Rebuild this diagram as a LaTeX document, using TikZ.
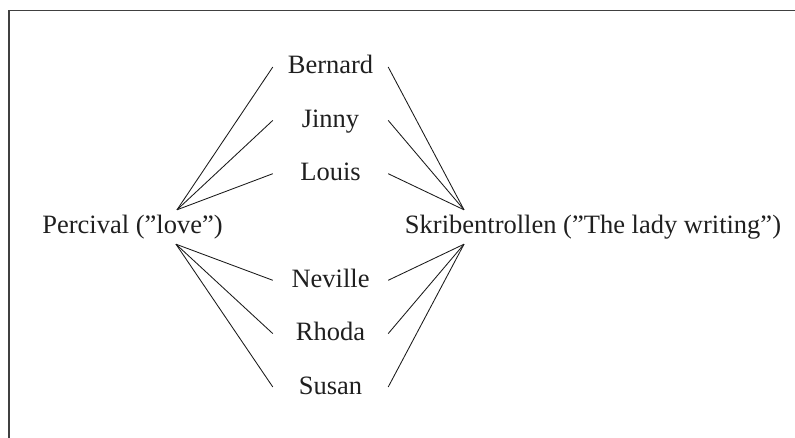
\documentclass[tikz,border=0pt]{standalone}
\usepackage{fontspec}
\setmainfont{Liberation Serif}
\begin{document}
\begin{tikzpicture}[x=1pt,y=-1pt,
  lbl/.style={font=\fontsize{26.5}{30}\selectfont, text=black!88, text height=18pt, text depth=4pt, inner ysep=6pt, inner xsep=0pt},
  person/.style={lbl, minimum width=115pt},
  link/.style={draw=black!90, line width=0.85pt}]
\useasboundingbox (0,0) rectangle (795,438);
\draw[black!75, line width=1.1pt] (9,438) -- (9,10.5) -- (795,10.5);

\node[lbl] (perc) at (132.5,227) {Percival (”love”)};
\node[lbl] (skrib) at (593,227) {Skribentrollen (”The lady writing”)};

\node[person] (bernard) at (330.5,67) {Bernard};
\node[person] (jinny) at (330.5,120.4) {Jinny};
\node[person] (louis) at (330.5,173.7) {Louis};
\node[person] (neville) at (330.5,280.3) {Neville};
\node[person] (rhoda) at (330.5,333.6) {Rhoda};
\node[person] (susan) at (330.5,387) {Susan};

\coordinate (pn) at ([xshift=44.5pt]perc.north);
\coordinate (ps) at ([xshift=43.5pt]perc.south);
\coordinate (sn) at ([xshift=-129pt]skrib.north);
\coordinate (ss) at ([xshift=-129pt]skrib.south);

\foreach \n in {bernard,jinny,louis}{
  \draw[link] (pn) -- (\n.west);
  \draw[link] (\n.east) -- (sn);
}
\foreach \n in {neville,rhoda,susan}{
  \draw[link] (ps) -- (\n.west);
  \draw[link] (\n.east) -- (ss);
}
\end{tikzpicture}
\end{document}
